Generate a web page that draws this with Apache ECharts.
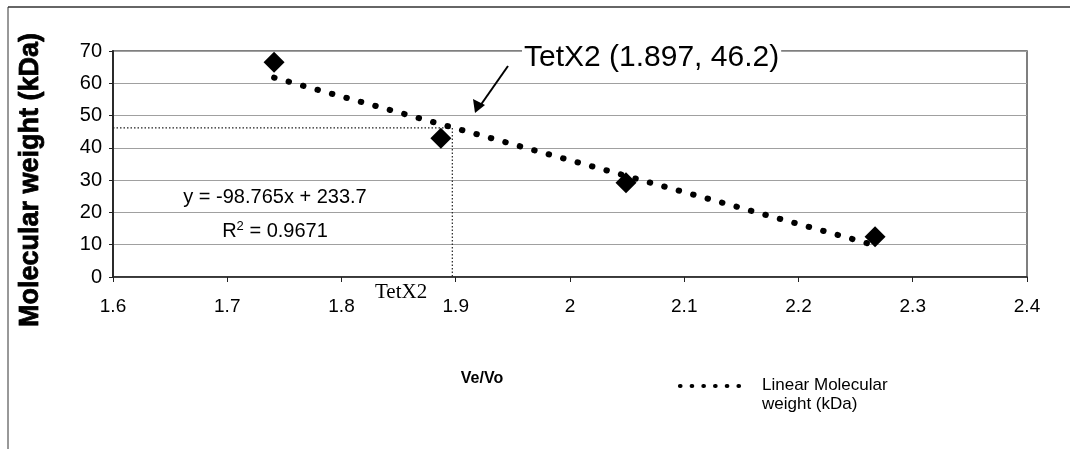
<!DOCTYPE html>
<html>
<head>
<meta charset="utf-8">
<style>
  html, body { margin: 0; padding: 0; background: #fff; }
  #chart { width: 1070px; height: 449px; }
</style>
<script src="https://cdn.jsdelivr.net/npm/echarts@6/dist/echarts.min.js"></script>
</head>
<body>
<div id="chart"></div>
<script>
// Measured standards: elution ratio Ve/Vo against molecular weight (kDa)
const veVo = [1.741, 1.887, 2.049, 2.267];
const molWeight = [66.5, 43.0, 29.2, 12.5];

// Linear fit stated on the chart
const trendSlope = -98.765;
const trendIntercept = 233.7;
const trendR2 = 0.9671;

// TetX2 position read from the fit
const tetX2Point = [1.897, 46.2];

// Axis ticks
const xTicks = [1.6, 1.7, 1.8, 1.9, 2.0, 2.1, 2.2, 2.3, 2.4];
const yTicks = [0, 10, 20, 30, 40, 50, 60, 70];

const FONT = "'Liberation Sans', Arial, sans-serif";

const points = veVo.map((x, i) => [x, molWeight[i]]);
const xMin = Math.min(...veVo), xMax = Math.max(...veVo);
const trendLine = [xMin, xMax].map(x => [x, trendSlope * x + trendIntercept]);

const chart = echarts.init(document.getElementById('chart'), null, { renderer: 'canvas' });

const guideStyle = { color: '#222', width: 1.2, type: [1.5, 2] };

chart.setOption({
  animation: false,
  backgroundColor: '#fff',
  grid: {
    left: 113, right: 43, top: 51, bottom: 172,
    show: true, borderColor: '#555', borderWidth: 1.5, backgroundColor: 'transparent'
  },
  xAxis: {
    type: 'value',
    min: xTicks[0], max: xTicks[xTicks.length - 1], interval: 0.1,
    axisLine: { lineStyle: { color: '#222', width: 1.5 } },
    axisTick: { show: true, length: 5, lineStyle: { color: '#222', width: 1 } },
    splitLine: { show: false },
    axisLabel: {
      margin: 20, color: '#000', fontFamily: FONT, fontSize: 19,
      formatter: v => String(parseFloat(v.toFixed(1)))
    }
  },
  yAxis: {
    type: 'value',
    min: yTicks[0], max: yTicks[yTicks.length - 1], interval: 10,
    axisLine: { show: true, lineStyle: { color: '#222', width: 1.8 } },
    axisTick: { show: true, length: 4, lineStyle: { color: '#222', width: 1 } },
    splitLine: { show: true, lineStyle: { color: '#a0a0a0', width: 1 } },
    axisLabel: { margin: 11, color: '#000', fontFamily: FONT, fontSize: 20 }
  },
  legend: {
    data: ['Linear Molecular weight (kDa)'],
    left: 676, top: 371,
    orient: 'vertical',
    itemWidth: 76, itemHeight: 14, itemGap: 4,
    icon: 'none',
    textStyle: { color: '#000', fontFamily: FONT, fontSize: 17, lineHeight: 19 },
    formatter: () => 'Linear Molecular\nweight (kDa)'
  },
  series: [
    {
      name: 'Molecular weight (kDa)',
      type: 'scatter',
      data: points,
      symbol: 'diamond',
      symbolSize: 21,
      itemStyle: { color: '#000', opacity: 1 },
      z: 5
    },
    {
      name: 'Linear Molecular weight (kDa)',
      type: 'line',
      data: trendLine,
      showSymbol: false,
      symbol: 'none',
      lineStyle: { color: '#000', width: 6, type: [0.5, 14.5], cap: 'round' },
      z: 4
    },
    {
      // guide lines dropping from the TetX2 point to both axes
      name: 'TetX2 guide',
      type: 'line',
      data: [[xTicks[0], tetX2Point[1]], tetX2Point, [tetX2Point[0], yTicks[0]]],
      showSymbol: false,
      symbol: 'none',
      lineStyle: guideStyle,
      z: 3
    }
  ],
  graphic: [
    // outer frame edges
    { type: 'line', shape: { x1: 8, y1: 7, x2: 1070, y2: 7 }, style: { stroke: '#666', lineWidth: 2 }, silent: true },
    { type: 'line', shape: { x1: 8, y1: 7, x2: 8, y2: 449 }, style: { stroke: '#333', lineWidth: 1 }, silent: true },
    // y axis title
    {
      type: 'text', x: 31, y: 180, rotation: Math.PI / 2,
      style: {
        text: 'Molecular weight (kDa)', fill: '#000',
        font: 'bold 27px ' + FONT, align: 'center', verticalAlign: 'middle',
        stroke: '#000', lineWidth: 0.8
      }
    },
    // x axis title
    {
      type: 'text', x: 482, y: 379,
      style: { text: 'Ve/Vo', fill: '#000', font: 'bold 16px ' + FONT, align: 'center', verticalAlign: 'middle' }
    },
    // fit equation
    {
      type: 'text', x: 275, y: 197,
      style: {
        text: 'y = ' + trendSlope + 'x + ' + trendIntercept,
        fill: '#000', font: '20px ' + FONT, align: 'center', verticalAlign: 'middle'
      }
    },
    {
      type: 'text', x: 275, y: 231,
      style: {
        text: '{b|R}{s|2}{b| = ' + trendR2 + '}',
        align: 'center', verticalAlign: 'middle',
        rich: {
          b: { fontFamily: FONT, fontSize: 20, fill: '#000', color: '#000' },
          s: { fontFamily: FONT, fontSize: 13, color: '#000', verticalAlign: 'top', padding: [0, 0, 10, 0] }
        }
      }
    },
    // TetX2 callout
    {
      type: 'text', x: 522, y: 58,
      style: {
        text: 'TetX2 (' + tetX2Point[0] + ', ' + tetX2Point[1] + ')',
        fill: '#000', font: '30px ' + FONT, align: 'left', verticalAlign: 'middle',
        backgroundColor: '#fff', padding: [0, 2, 0, 2]
      },
      z: 10
    },
    {
      type: 'line', shape: { x1: 508, y1: 66, x2: 480, y2: 106 },
      style: { stroke: '#000', lineWidth: 2 }, z: 10
    },
    {
      type: 'polygon', shape: { points: [[475, 113], [473, 99], [485, 105]] },
      style: { fill: '#000' }, z: 10
    },
    // TetX2 label under the axis
    {
      type: 'text', x: 375, y: 282,
      style: { text: 'TetX2', fill: '#000', font: "21px 'Liberation Serif', 'Times New Roman', serif", align: 'left', verticalAlign: 'top' }
    },
    // legend key
    {
      type: 'line', shape: { x1: 680, y1: 386, x2: 750, y2: 386 },
      style: { stroke: '#000', lineWidth: 4.2, lineDash: [0.5, 11.2], lineCap: 'round' }
    }
  ]
});
</script>
</body>
</html>
